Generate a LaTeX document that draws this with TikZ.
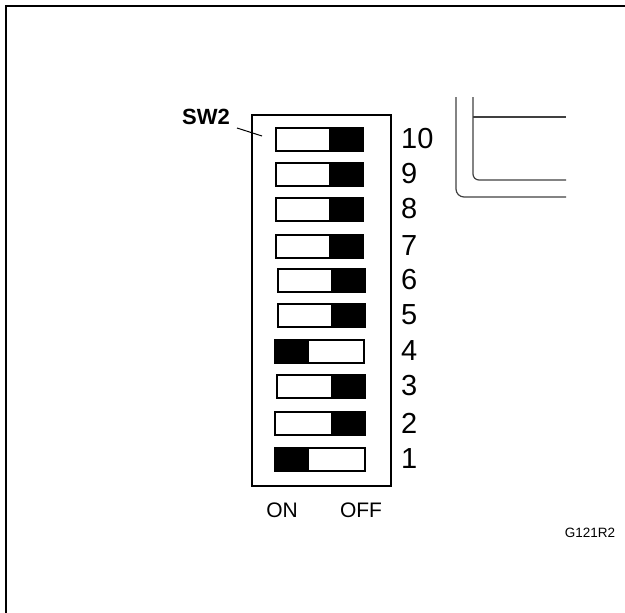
\documentclass[tikz,border=0pt]{standalone}
\usepackage{fontspec}
\setmainfont{Liberation Sans}
\begin{document}
\begin{tikzpicture}[x=1pt,y=-1pt,
  frame/.style={line width=2.4pt,draw=black},
  housing/.style={line width=2.2pt,draw=black},
  swbody/.style={draw=black,line width=1.6pt,fill=white},
  pcb/.style={draw=black!75,line width=1.2pt},
  numlab/.style={font=\fontsize{29}{29}\selectfont,anchor=west,inner sep=0pt},
  sidelab/.style={font=\fontsize{21}{21}\selectfont,inner sep=0pt}]
\useasboundingbox (0,0) rectangle (625,613);
\begin{scope}
\clip (0,0) rectangle (625,613);
\draw[frame] (6,620) -- (6,6) -- (632,6);
\end{scope}
% PCB outline
\draw[pcb,rounded corners=8pt] (456,97) -- (456,197) -- (566,197);
\draw[pcb,rounded corners=6pt] (473,97) -- (473,180) -- (566,180);
\draw[pcb] (473,117) -- (566,117);
% housing
\node[housing,minimum width=139pt,minimum height=371pt,inner sep=0pt] (box) at (321.5,300.5) {};
% SW2 label
\node[font=\bfseries\fontsize{22}{22}\selectfont,inner sep=0pt] (swlab) at (206,117) {SW2};
\coordinate (lead) at (262,136);
\draw[line width=1pt] (237,128) -- (lead);
% switches: number / top / left / right / on(1) or off(0)
\foreach \n/\t/\l/\r/\s in {10/127/275/362/0, 9/162/275/362/0, 8/197/275/362/0, 7/234/275/362/0,
  6/268/277/364/0, 5/303/277/364/0, 4/339/274/363/1, 3/374/276/364/0, 2/411/274/364/0, 1/447/274/364/1}{
  \node[swbody,minimum width={\r-\l},minimum height=23pt,inner sep=0pt,anchor=north west] (s\n) at (\l,\t) {};
  \ifnum\s=1
    \fill[black] (s\n.north west) rectangle ([xshift=35pt]s\n.south west);
  \else
    \fill[black] ([xshift=-35pt]s\n.north east) rectangle (s\n.south east);
  \fi
  \node[numlab] (n\n) at (401,\t+12) {\n};
}
\node[sidelab] (on) at (282,510) {ON};
\node[sidelab] (off) at (361,510) {OFF};
\node[font=\fontsize{13.5}{13.5}\selectfont,inner sep=0pt] (code) at (590,533) {G121R2};
\end{tikzpicture}
\end{document}
